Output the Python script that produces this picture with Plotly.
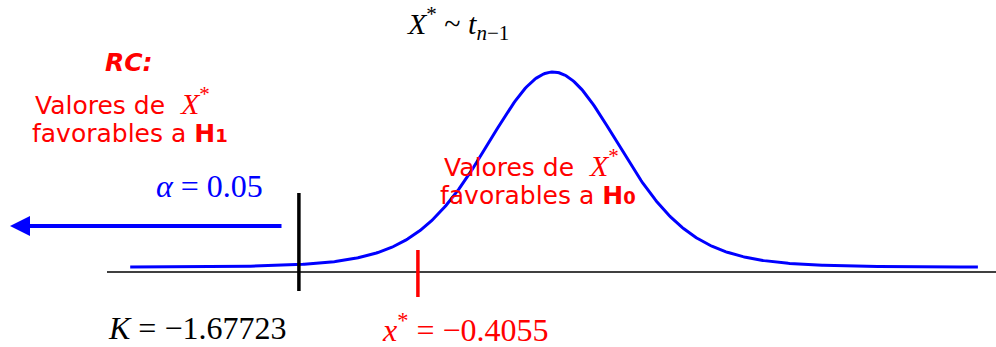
import numpy as np
import plotly.graph_objects as go

# ---- data (schematic t-density picture) ----
df_t = 8                      # degrees of freedom used for the drawn density
curve_from, curve_to = -6.04, 6.07
k_label = "<i>K</i> = −1.67723"
xstar_label = "<i>x</i><sup>*</sup> = −0.4055"
alpha_label = "<i>α</i> = 0.05"
k_pos = -3.63                 # schematic position of the critical value
xstar_pos = -1.93             # schematic position of the observed statistic

t = np.linspace(curve_from, curve_to, 600)
dens = (1 + t**2 / df_t) ** (-(df_t + 1) / 2)   # t density, normalised to peak 1

W, H = 996, 347
x0 = -553 / 70
x1 = (W - 553) / 70
y_top = 267 / 195
y_bot = -(H - 267) / 195

def px(x):
    return x / W

def py(y):
    return 1 - y / H

fig = go.Figure()
fig.add_trace(go.Scatter(x=t, y=dens, mode="lines",
                         line=dict(color="#0000FF", width=3), hoverinfo="skip"))

shapes = [
    dict(type="line", xref="paper", yref="y", x0=107 / W, x1=1, y0=-5 / 195, y1=-5 / 195,
         line=dict(color="black", width=1.5)),
    dict(type="line", xref="x", yref="paper", x0=k_pos, x1=k_pos, y0=py(291), y1=py(193),
         line=dict(color="black", width=3.5)),
    dict(type="line", xref="x", yref="paper", x0=xstar_pos, x1=xstar_pos, y0=py(297), y1=py(250),
         line=dict(color="#FF0000", width=3.5)),
]

serif = "Liberation Serif, Times New Roman, serif"
sans = "DejaVu Sans, Verdana, sans-serif"
red = "#FF0000"
XS = "<span style='font-family:Liberation Serif;font-size:30px'><i>X</i><sup>*</sup></span>"

ann = []
def A(text, x, y, size, color, family, xanchor="center", yanchor="middle", align="center"):
    ann.append(dict(text=text, x=px(x), y=py(y), xref="paper", yref="paper", showarrow=False,
                    font=dict(size=size, color=color, family=family), xanchor=xanchor,
                    yanchor=yanchor, align=align))

A("<i>X</i><sup>*</sup> ~ <i>t</i><sub><i>n</i>−1</sub>", 458, 24, 30, "black", serif)
A("<b><i>RC:</i></b>", 129, 63, 25, red, sans)
A("Valores de  " + XS, 33, 101, 25, red, sans, xanchor="left")
A("favorables a <b>H<span style='font-size:18px'>1</span></b>", 130, 133, 25, red, sans)
A("Valores de  " + XS, 442, 163, 25, red, sans, xanchor="left")
A("favorables a <b>H<span style='font-size:18px'>0</span></b>", 538, 195, 25, red, sans)
A(alpha_label, 209, 186, 32, "#0000FF", serif)
A(k_label, 197, 328, 32, "black", serif)
A(xstar_label, 465, 328, 32, red, serif)

ann.append(dict(x=px(10), y=py(226), xref="paper", yref="paper", ax=283 - 10, ay=0,
                axref="pixel", ayref="pixel", showarrow=True, arrowhead=2, arrowsize=1,
                arrowwidth=4, arrowcolor="#0000FF", text=""))

fig.update_layout(
    width=W, height=H, margin=dict(l=0, r=0, t=0, b=0),
    paper_bgcolor="white", plot_bgcolor="white", showlegend=False,
    xaxis=dict(range=[x0, x1], visible=False, fixedrange=True),
    yaxis=dict(range=[y_bot, y_top], visible=False, fixedrange=True),
    shapes=shapes, annotations=ann,
)
fig.write_html("out.html", config={"displayModeBar": False},
               post_script="document.body.style.margin='0';")
